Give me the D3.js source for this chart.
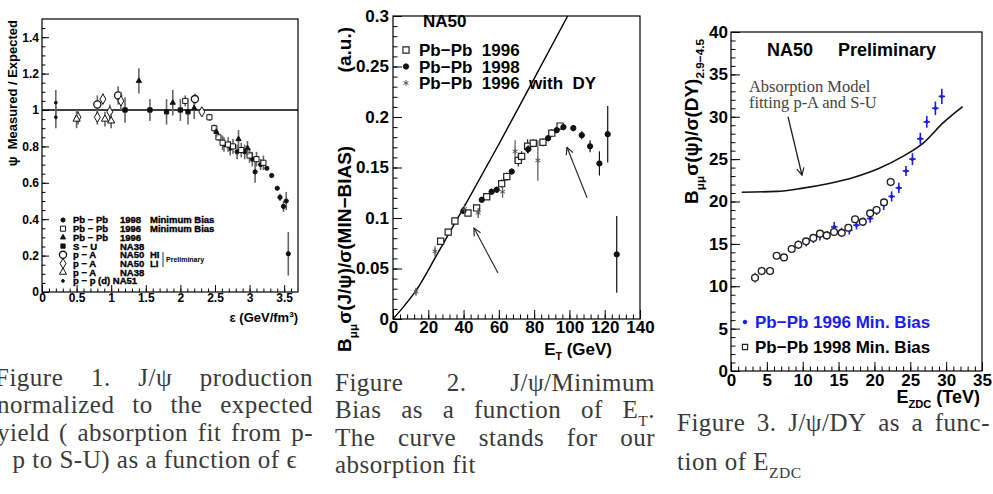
<!DOCTYPE html>
<html>
<meta charset="utf-8">
<style>
body { margin: 0; background: #fff; }
svg { display: block; }
.frame { fill: none; stroke: #000; stroke-width: 1.2; }
.axis .domain { display: none; }
.axis line { stroke: #000; stroke-width: 1; }
.axis text, .lab { font-family: 'Liberation Sans', Arial, sans-serif; font-weight: bold; fill: #000; }
.caption { font-family: 'Liberation Serif', serif; fill: #3a3a3a; font-size: 25px; letter-spacing: 0.5px; }
.rt { white-space: pre; }
</style>
<body>
<svg width="993" height="494"></svg>
<script src="https://d3js.org/d3.v7.min.js"></script>
<script>

// ---- figure 1 : J/psi measured / expected vs epsilon ----
var epsTicks = [0, 0.5, 1, 1.5, 2, 2.5, 3, 3.5];
var ratioTicks = [0, 0.2, 0.4, 0.6, 0.8, 1, 1.2, 1.4];
// [epsilon, ratio, error]
var ppdNA51 = [[0.2, 1.04, 0.07], [0.2, 0.96, 0.06]];
var pANA38 = [[0.5, 0.95, 0.05], [0.91, 0.95, 0.04], [1.0, 0.94, 0.04]];
var pANA50HI = [[0.8, 1.03, 0.05], [1.1, 1.08, 0.05], [2.21, 1.06, 0.03]];
var pANA50LI = [[0.52, 0.96, 0.04], [0.8, 0.96, 0.04], [0.88, 1.06, 0.03], [0.98, 0.99, 0.04], [1.14, 1.05, 0.05], [2.31, 0.99, 0.02]];
var sUNA38 = [[1.2, 1.0, 0.07], [1.56, 1.0, 0.06], [1.8, 0.99, 0.07], [2.0, 1.0, 0.06], [2.11, 0.99, 0.07]];
var pbpb96 = [[1.4, 1.16, 0.07], [1.89, 1.04, 0.07], [2.2, 1.01, 0.06], [2.52, 0.88, 0.03], [2.84, 0.84, 0.05], [2.97, 0.79, 0.04]];
var pbpb96MB = [[2.07, 1.05, 0.03], [2.42, 0.96, 0.02], [2.49, 0.9, 0.02], [2.55, 0.85, 0.02], [2.61, 0.82, 0.04], [2.69, 0.81, 0.04],
  [2.76, 0.8, 0.04], [2.88, 0.78, 0.04], [3.0, 0.75, 0.04], [3.1, 0.73, 0.04], [3.2, 0.71, 0.04]];
var pbpb98MB = [[2.63, 0.81, 0.04], [2.72, 0.79, 0.04], [2.82, 0.77, 0.04], [2.93, 0.77, 0.04], [3.04, 0.73, 0.04], [3.08, 0.66, 0.06],
  [3.16, 0.7, 0.03], [3.25, 0.68, 0.01], [3.32, 0.64, 0.01], [3.4, 0.57, 0.01], [3.44, 0.52, 0.02], [3.49, 0.47, 0.03],
  [3.53, 0.5, 0.05], [3.56, 0.21, 0.12]];
var epsLegend = [["Pb − Pb", "1998", "Minimum Bias"], ["Pb − Pb", "1996", "Minimum Bias"], ["Pb − Pb", "1996", ""],
  ["S − U", "NA38", ""], ["p − A", "NA50", "HI"], ["p − A", "NA50", "LI"], ["p − A", "NA38", ""], ["p − p (d) NA51", "", ""]];

// ---- figure 2 : J/psi / min bias vs E_T ----
var etTicks = [0, 20, 40, 60, 80, 100, 120, 140];
var mbTicks = [0, 0.05, 0.1, 0.15, 0.2, 0.25, 0.3];
var etPbPb96 = [[27, 0.077, 0.003], [31.3, 0.086, 0.003], [35.1, 0.097, 0.003], [42.5, 0.105, 0.003], [47.4, 0.11, 0.003],
  [53.1, 0.121, 0.003], [61.6, 0.134, 0.004], [64.5, 0.141, 0.004], [71, 0.157, 0.006], [72.9, 0.161, 0.005],
  [76.3, 0.171, 0.007], [79.5, 0.174, 0.004], [85, 0.175, 0.004], [90, 0.184, 0.004], [94.7, 0.191, 0.003]];
var etPbPb98 = [[39.9, 0.107, 0.003], [50.3, 0.118, 0.003], [55.9, 0.126, 0.003], [58.8, 0.128, 0.003], [67.3, 0.146, 0.003],
  [76.6, 0.168, 0.004], [87.9, 0.179, 0.003], [92.8, 0.187, 0.003], [96.6, 0.19, 0.003], [102.2, 0.189, 0.003],
  [107, 0.182, 0.004], [111.7, 0.171, 0.006], [117, 0.154, 0.012], [121.7, 0.183, 0.028], [126.8, 0.064, 0.038]];
var etPbPb96DY = [[13, 0.027, 0.004], [23.8, 0.067, 0.005], [40.5, 0.109, 0.005], [48.3, 0.105, 0.005], [62.1, 0.126, 0.006],
  [69.2, 0.166, 0.011], [82.1, 0.157, 0.02]];
var etFitX = [0, 5, 13, 25, 40, 60, 80, 99];
var etFitY = [0, 0.01, 0.028, 0.064, 0.11, 0.173, 0.238, 0.3];
var etLegend = ["Pb−Pb  1996", "Pb−Pb  1998", "Pb−Pb  1996  with  DY"];
var etArrows = [[59.5, 0.0455, 45.9, 0.09], [110, 0.12, 98.6, 0.17]];

// ---- figure 3 : J/psi / DY vs E_ZDC ----
var zdcTicks = [0, 5, 10, 15, 20, 25, 30, 35];
var dyTicks = [0, 5, 10, 15, 20, 25, 30, 35, 40];
var zdc96 = [[9.4, 14.9, 0.5], [10.5, 15.2, 0.5], [11.5, 15.6, 0.5], [12.4, 15.9, 0.5], [13.4, 16.0, 0.5], [14.4, 17.0, 0.6],
  [15.4, 16.4, 0.5], [16.5, 16.6, 0.5], [17.5, 17.2, 0.5], [18.5, 17.6, 0.5], [19.4, 18.0, 0.5], [20.3, 18.9, 0.5],
  [21.3, 19.6, 0.6], [22.4, 20.6, 0.6], [23.4, 21.6, 0.6], [24.4, 23.6, 0.6], [25.3, 25.0, 0.7], [26.4, 27.4, 0.7],
  [27.3, 29.4, 0.7], [28.5, 31.0, 0.8], [29.4, 32.4, 0.9]];
var zdc98 = [[3.35, 11.0, 0.6], [4.28, 11.8, 0.5], [5.44, 11.8, 0.4], [6.37, 13.6, 0.4], [7.39, 13.4, 0.4], [8.46, 14.4, 0.4],
  [9.39, 14.9, 0.4], [10.46, 15.3, 0.4], [11.48, 15.7, 0.4], [12.41, 16.2, 0.4], [13.35, 16.0, 0.4], [14.37, 16.4, 0.4],
  [15.44, 16.3, 0.4], [16.36, 16.9, 0.4], [17.3, 17.9, 0.4], [18.37, 17.6, 0.4], [19.4, 18.6, 0.4], [20.3, 19.0, 0.4],
  [21.34, 19.9, 0.4], [22.27, 22.3, 0.5]];
var absModelX = [1.5, 6.4, 9.8, 13.5, 17.3, 20.6, 23.9, 26.8, 29.6, 32.3];
var absModelY = [21.1, 21.2, 21.55, 22.1, 22.9, 23.9, 25.3, 26.9, 29.3, 31.2];
var zdcLegend = ["Pb−Pb 1996 Min. Bias", "Pb−Pb 1998 Min. Bias"];
var absNote = ["Absorption Model", "fitting p-A and S-U"];

var BLUE = "#1c1ce8";

var svg = d3.select("svg");
svg.append("rect").attr("width", 993).attr("height", 494).attr("fill", "#fff");

var defs = svg.append("defs");
defs.append("marker").attr("id", "vhead").attr("viewBox", "0 0 10 10").attr("refX", 9).attr("refY", 5)
  .attr("markerWidth", 9).attr("markerHeight", 9).attr("orient", "auto-start-reverse")
  .attr("markerUnits", "userSpaceOnUse")
  .append("path").attr("d", "M1,1 L9,5 L1,9").attr("fill", "none").attr("stroke", "#222").attr("stroke-width", 1.3);

// text with _{sub} / ^{sup} pieces
function rich(t, str, size) {
  var parts = str.split(/(_\{[^}]*\}|\^\{[^}]*\})/);
  var shift = 0;
  parts.forEach(function(p) {
    if (!p) return;
    var m = p.match(/^([_^])\{(.*)\}$/);
    if (m) {
      var dy = m[1] === "_" ? size * 0.3 : -size * 0.4;
      t.append("tspan").attr("dy", dy - shift).style("font-size", (size * 0.62) + "px").text(m[2]);
      shift = dy;
    } else {
      t.append("tspan").attr("dy", -shift).text(p);
      shift = 0;
    }
  });
  return t;
}

function label(g, str, x, y, size, anchor, rot) {
  var t = g.append("text").attr("class", "lab rt").style("font-size", size + "px")
    .attr("text-anchor", anchor || "start")
    .attr("transform", "translate(" + x + "," + y + ")" + (rot ? " rotate(" + rot + ")" : ""));
  return rich(t, str, size);
}

function axes(g, x, y, o) {
  var xr = x.range(), yr = y.range();
  var fmt = function(d) { return String(d); };
  g.append("g").attr("class", "axis").attr("transform", "translate(0," + yr[0] + ")")
    .call(d3.axisBottom(x).tickValues(o.xMinor).tickSize(-o.minor).tickFormat(""));
  g.append("g").attr("class", "axis").attr("transform", "translate(0," + yr[0] + ")")
    .call(d3.axisBottom(x).tickValues(o.xTicks).tickSize(-o.major).tickPadding(o.xPad).tickFormat(fmt))
    .selectAll("text").style("font-size", o.font + "px");
  g.append("g").attr("class", "axis").attr("transform", "translate(" + xr[0] + ",0)")
    .call(d3.axisLeft(y).tickValues(o.yMinor).tickSize(-o.minor).tickFormat(""));
  g.append("g").attr("class", "axis").attr("transform", "translate(" + xr[0] + ",0)")
    .call(d3.axisLeft(y).tickValues(o.yTicks).tickSize(-o.major).tickPadding(o.yPad).tickFormat(fmt))
    .selectAll("text").style("font-size", o.font + "px");
  g.append("rect").attr("class", "frame").attr("x", xr[0]).attr("y", yr[1])
    .attr("width", xr[1] - xr[0]).attr("height", yr[0] - yr[1]);
}

function points(g, x, y, pts, o) {
  var s = g.append("g");
  s.selectAll("line.ey").data(pts).join("line").attr("class", "ey")
    .attr("x1", function(d) { return x(d[0]); }).attr("x2", function(d) { return x(d[0]); })
    .attr("y1", function(d) { return y(d[1] - d[2]); }).attr("y2", function(d) { return y(d[1] + d[2]); })
    .attr("stroke", o.ecolor || o.color).attr("stroke-width", o.ew || 1.2);
  if (o.xe) {
    s.selectAll("line.ex").data(pts).join("line").attr("class", "ex")
      .attr("x1", function(d) { return x(d[0] - o.xe); }).attr("x2", function(d) { return x(d[0] + o.xe); })
      .attr("y1", function(d) { return y(d[1]); }).attr("y2", function(d) { return y(d[1]); })
      .attr("stroke", o.color).attr("stroke-width", o.ew || 1.2);
  }
  s.selectAll("path.pt").data(pts).join("path").attr("class", "pt")
    .attr("transform", function(d) { return "translate(" + x(d[0]) + "," + y(d[1]) + ")"; })
    .attr("d", d3.symbol().type(o.type).size(o.size))
    .attr("fill", o.open ? "#fff" : o.color).attr("stroke", o.color).attr("stroke-width", o.sw || 1);
}

function legendMark(g, cx, cy, o) {
  g.append("path").attr("transform", "translate(" + cx + "," + cy + ")")
    .attr("d", d3.symbol().type(o.type).size(o.size))
    .attr("fill", o.open ? "#fff" : o.color).attr("stroke", o.color).attr("stroke-width", o.sw || 1);
}

function arrow(g, x, y, a, w) {
  g.append("line").attr("x1", x(a[0])).attr("y1", y(a[1])).attr("x2", x(a[2])).attr("y2", y(a[3]))
    .attr("stroke", "#222").attr("stroke-width", w || 1.2).attr("marker-end", "url(#vhead)");
}

// justified caption lines
function caption(lines) {
  lines.forEach(function(l) {
    var g = svg.append("g");
    if (!l.justify) {
      var t = g.append("text").attr("class", "caption rt").attr("x", l.x0).attr("y", l.y)
        .attr("text-anchor", l.anchor || "start");
      rich(t, l.words.join(" "), 25);
      return;
    }
    var ws = l.words.map(function(w) {
      var t = g.append("text").attr("class", "caption rt").attr("y", l.y);
      rich(t, w, 25);
      return t;
    });
    var widths = ws.map(function(t) { return t.node().getComputedTextLength(); });
    var gap = (l.x1 - l.x0 - d3.sum(widths)) / (ws.length - 1);
    var xx = l.x0;
    ws.forEach(function(t, i) { t.attr("x", xx); xx += widths[i] + gap; });
  });
}

var symAst = d3.symbolAsterisk || d3.symbolCross;

// ================= figure 1 =================
var g1 = svg.append("g");
var x1 = d3.scaleLinear().domain([0, 3.7]).range([42, 298]);
var y1 = d3.scaleLinear().domain([0, 1.5]).range([292, 19]);
axes(g1, x1, y1, {
  xTicks: epsTicks, yTicks: ratioTicks, xMinor: d3.range(0, 3.7, 0.1), yMinor: d3.range(0, 1.5, 0.05),
  major: 7, minor: 3.5, font: 12, xPad: 1, yPad: 3
});
g1.append("line").attr("x1", x1(0)).attr("x2", x1(3.7)).attr("y1", y1(1)).attr("y2", y1(1))
  .attr("stroke", "#000").attr("stroke-width", 1.4);

var epsStyles = [
  { data: pbpb98MB, type: d3.symbolCircle, size: 14, color: "#111", ecolor: "#666", ew: 1.6 },
  { data: pbpb96MB, type: d3.symbolSquare, size: 26, open: true, color: "#111", ecolor: "#666", ew: 1.6 },
  { data: pbpb96, type: d3.symbolTriangle, size: 12, color: "#111", ecolor: "#666", ew: 1.6 },
  { data: sUNA38, type: d3.symbolSquare, size: 18, color: "#111", ecolor: "#666", ew: 1.6 },
  { data: pANA50HI, type: d3.symbolCircle, size: 40, open: true, color: "#111", ecolor: "#666", ew: 1.6, sw: 1.3 },
  { data: pANA50LI, type: d3.symbolDiamond, size: 30, open: true, color: "#111", ecolor: "#666", ew: 1.6 },
  { data: pANA38, type: d3.symbolTriangle, size: 22, open: true, color: "#111", ecolor: "#666", ew: 1.6 },
  { data: ppdNA51, type: d3.symbolCircle, size: 6, color: "#111", ecolor: "#666", ew: 1.6 }
];
epsStyles.forEach(function(s) { points(g1, x1, y1, s.data, s); });

epsLegend.forEach(function(r, i) {
  var yy = 220 + i * 8.7;
  legendMark(g1, 63, yy, epsStyles[i]);
  label(g1, r[0], 73, yy + 3.4, 9.5);
  label(g1, r[1], 120, yy + 3.4, 9.5);
  label(g1, r[2], 150, yy + 3.4, 9.5);
});
g1.selectAll(".lab").filter(function() { return this.style.fontSize === "9.5px"; })
  .style("stroke", "#000").style("stroke-width", 0.35);
g1.append("line").attr("x1", 163).attr("x2", 163).attr("y1", 252).attr("y2", 267).attr("stroke", "#000").attr("stroke-width", 0.8);
label(g1, "Preliminary", 166, 262, 7);

label(g1, "ψ  Measured / Expected", 17, 20, 13, "end", -90);
label(g1, "ε (GeV/fm^{3})", 298, 322, 13, "end");

// ================= figure 2 =================
var g2 = svg.append("g");
var x2 = d3.scaleLinear().domain([0, 140]).range([393, 640]);
var y2 = d3.scaleLinear().domain([0, 0.3]).range([319, 16]);
axes(g2, x2, y2, {
  xTicks: etTicks, yTicks: mbTicks, xMinor: d3.range(0, 140, 4), yMinor: d3.range(0, 0.3, 0.01),
  major: 9, minor: 4.5, font: 17, xPad: 2, yPad: 4
});
var fitLine = d3.line().x(function(d) { return x2(d[0]); }).y(function(d) { return y2(d[1]); }).curve(d3.curveMonotoneX);
g2.append("path").attr("d", fitLine(d3.zip(etFitX, etFitY))).attr("fill", "none").attr("stroke", "#000").attr("stroke-width", 1.4);

var etStyles = [
  { data: etPbPb96, type: d3.symbolSquare, size: 38, open: true, color: "#222", sw: 1.2 },
  { data: etPbPb98, type: d3.symbolCircle, size: 22, color: "#111" },
  { data: etPbPb96DY, type: symAst, size: 22, color: "#555", sw: 1 }
];
etStyles.forEach(function(s) { points(g2, x2, y2, s.data, s); });
etArrows.forEach(function(a) { arrow(g2, x2, y2, a, 1.1); });

label(g2, "NA50", 423, 27, 17);
etLegend.forEach(function(r, i) {
  var yy = 50 + i * 16.5;
  legendMark(g2, 406, yy, etStyles[i]);
  label(g2, r, 419, yy + 6, 17);
});
label(g2, "B_{μμ}σ(J/ψ)/σ(MIN−BIAS)", 351, 352, 19, "start", -90);
label(g2, "(a.u.)", 351, 27, 19, "end", -90);
label(g2, "E_{T} (GeV)", 612, 355, 17, "end");

// ================= figure 3 =================
var g3 = svg.append("g");
var x3 = d3.scaleLinear().domain([0, 35]).range([731, 982]);
var y3 = d3.scaleLinear().domain([0, 40]).range([371, 32]);
axes(g3, x3, y3, {
  xTicks: zdcTicks, yTicks: dyTicks, xMinor: d3.range(0, 35, 1), yMinor: d3.range(0, 40, 1),
  major: 9, minor: 4.5, font: 17, xPad: 3, yPad: 3
});
var absLine = d3.line().x(function(d) { return x3(d[0]); }).y(function(d) { return y3(d[1]); }).curve(d3.curveMonotoneX);
g3.append("path").attr("d", absLine(d3.zip(absModelX, absModelY))).attr("fill", "none").attr("stroke", "#111").attr("stroke-width", 1.6);

var zdcStyles = [
  { data: zdc96, type: d3.symbolCircle, size: 6, color: BLUE, xe: 0.45, ew: 1.6 },
  { data: zdc98, type: d3.symbolCircle, size: 36, open: true, color: "#222", sw: 1.4 }
];
zdcStyles.forEach(function(s) { points(g3, x3, y3, s.data, s); });

label(g3, "NA50", 767, 56, 18);
label(g3, "Preliminary", 838, 56, 18);
g3.selectAll("text.note").data(absNote).join("text").attr("class", "note")
  .attr("x", x3(2.5)).attr("y", function(d, i) { return y3(32.9) + i * 15.5; })
  .style("font-family", "'Liberation Serif', serif").style("font-size", "16.5px").style("fill", "#444")
  .text(function(d) { return d; });
arrow(g3, x3, y3, [7.95, 30.0, 9.9, 23.1], 1.3);

zdcLegend.forEach(function(r, i) {
  var yy = 322 + i * 25;
  legendMark(g3, 745, yy, i === 0 ? { type: d3.symbolCircle, size: 10, color: BLUE } :
    { type: d3.symbolSquare, size: 26, open: true, color: "#222", sw: 1.2 });
  label(g3, r, 755, yy + 6, 17).style("fill", i === 0 ? BLUE : "#000");
});
label(g3, "B_{μμ}σ(ψ)/σ(DY)_{2.9−4.5}", 698, 204, 19, "start", -90);
label(g3, "E_{ZDC} (TeV)", 980, 403, 18, "end");

// ================= captions =================
caption([
  { words: ["Figure", "1.", "J/ψ", "production"], x0: -5, x1: 313, y: 386, justify: true },
  { words: ["normalized", "to", "the", "expected"], x0: -3, x1: 313, y: 413, justify: true },
  { words: ["yield", "(", "absorption", "fit", "from", "p-"], x0: -3, x1: 313, y: 441, justify: true },
  { words: ["p to S-U) as a function of ϵ"], x0: 297, y: 468, anchor: "end" },
  { words: ["Figure", "2.", "J/ψ/Minimum"], x0: 335, x1: 655, y: 391, justify: true },
  { words: ["Bias", "as", "a", "function", "of", "E_{T}."], x0: 335, x1: 655, y: 418, justify: true },
  { words: ["The", "curve", "stands", "for", "our"], x0: 335, x1: 655, y: 446, justify: true },
  { words: ["absorption fit"], x0: 335, y: 473 },
  { words: ["Figure", "3.", "J/ψ/DY", "as", "a", "func-"], x0: 677, x1: 990, y: 431, justify: true },
  { words: ["tion of E_{ZDC}"], x0: 677, y: 470 }
]);
</script>
</body>
</html>
